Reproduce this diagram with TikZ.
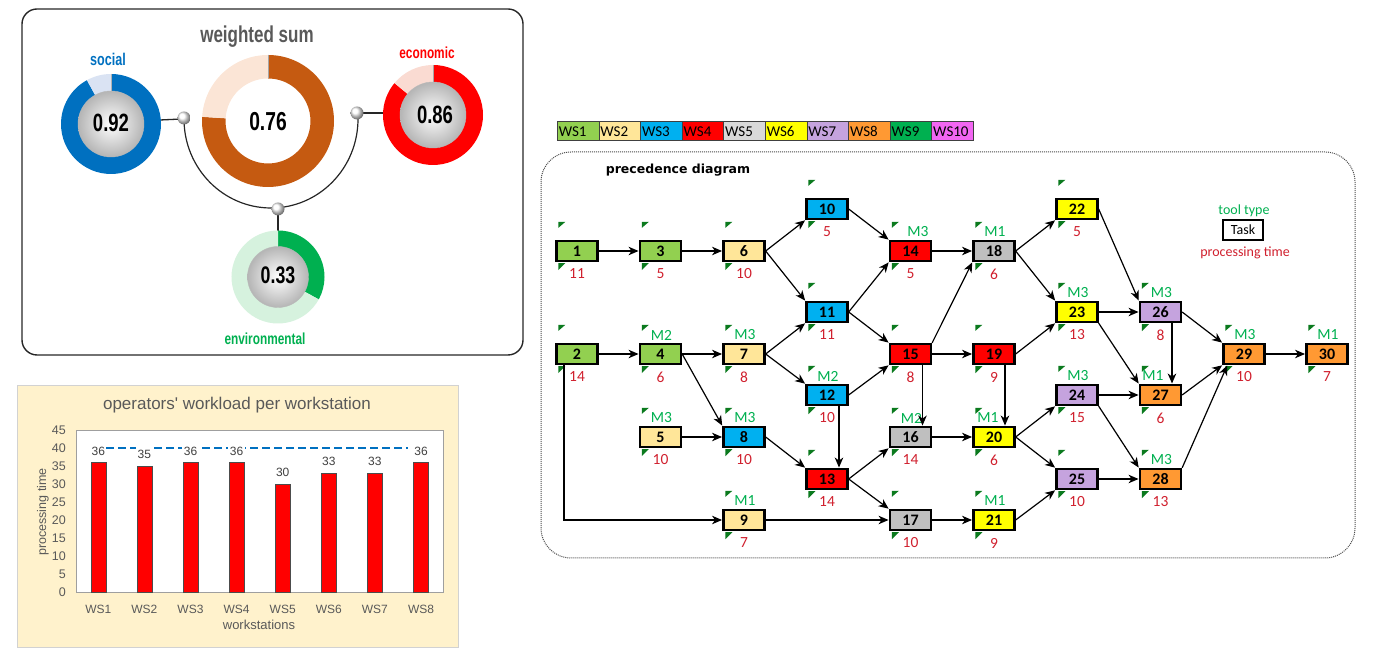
\documentclass[tikz,border=0pt]{standalone}
\usepackage{fontspec}
\usepackage{graphicx}
\setmainfont{Carlito}
\newfontfamily\arialf{Liberation Sans}
\newfontfamily\verdf{DejaVu Sans}
\usetikzlibrary{arrows.meta,calc}
\definecolor{ws1}{HTML}{92D050}
\definecolor{ws2}{HTML}{FFE699}
\definecolor{ws3}{HTML}{00B0F0}
\definecolor{ws4}{HTML}{FF0000}
\definecolor{ws5}{HTML}{D9D9D9}
\definecolor{ws5n}{HTML}{BFBFBF}
\definecolor{ws6}{HTML}{FFFF00}
\definecolor{ws7}{HTML}{C5A3DE}
\definecolor{ws8}{HTML}{FF9933}
\definecolor{ws9}{HTML}{00B050}
\definecolor{ws10}{HTML}{F266F2}
\definecolor{tgreen}{HTML}{00B050}
\definecolor{tred}{HTML}{D0202E}
\definecolor{flaggreen}{HTML}{0B7A1E}
\definecolor{chartgray}{HTML}{595959}
\definecolor{labgray}{HTML}{404040}
\definecolor{panelbg}{HTML}{FFF2CC}
\definecolor{dashblue}{HTML}{0070C0}
\definecolor{socblue}{HTML}{0070C0}
\definecolor{socpale}{HTML}{DAE3F3}
\definecolor{wsbrown}{HTML}{C55A11}
\definecolor{wspale}{HTML}{FBE5D6}
\definecolor{ecored}{HTML}{FF0000}
\definecolor{ecopale}{HTML}{FADBD2}
\definecolor{envgreen}{HTML}{00B050}
\definecolor{envpale}{HTML}{D6F2DE}
\definecolor{titlegray}{HTML}{595959}
% annulus segment: cx cy R r a1 a2 colour
\newcommand\gseg[7]{\fill[#7] ({#1+#3*cos(#5)},{#2+#3*sin(#5)}) arc[start angle=#5,end angle=#6,radius=#3] -- ({#1+#4*cos(#6)},{#2+#4*sin(#6)}) arc[start angle=#6,end angle=#5,radius=#4] -- cycle;}
\newcommand\cond[2]{\scalebox{0.74}[1]{\fontsize{#1}{#1}\selectfont\arialf\bfseries #2}}
% task: id x y colour number ptime tool dx
\newcommand\tsk[8]{%
  \node[task, fill=#4] (t#1) at (#2,#3) {#5};
  \fill[flaggreen] ([shift={(3,18)}]t#1.north west) -- ++(7,0) -- ++(-7,-6) -- cycle;
  \fill[flaggreen] ([shift={(3,-1)}]t#1.south west) -- ++(7,0) -- ++(-7,-7) -- cycle;
  \node[ptime] (p#1) at (#2,{#3-23}) {#6};
  \if\relax\detokenize{#7}\relax\else\node[tool] (m#1) at ({#2+1+#8},{#3+19}) {#7};\fi
}
\begin{document}
\begin{tikzpicture}[x=1pt,y=1pt,
  task/.style={draw=black, line width=2.3pt, minimum width=41pt, minimum height=20pt, inner sep=0pt, font=\fontsize{16}{16}\selectfont\bfseries},
  ptime/.style={text=tred, inner sep=0pt, font=\fontsize{15.5}{15.5}\selectfont},
  tool/.style={text=tgreen, inner sep=0pt, font=\fontsize{15.5}{15.5}\selectfont},
  arr/.style={-{Stealth[length=10pt,width=8.5pt,inset=3pt]}, line width=1.2pt, shorten >=0.3pt},
  legcell/.style={draw=black!75, line width=0.6pt, minimum height=19pt, text width=38.6pt, inner xsep=1.5pt, inner ysep=0pt, align=left, anchor=south west, font=\fontsize{15}{15}\selectfont},
  knob/.style={inner color=white, outer color=gray!58, draw=gray!55, line width=0.4pt},
  ballst/.style={ball color=white},
  chartlbl/.style={text=chartgray, font=\arialf\fontsize{12.5}{12.5}\selectfont, inner sep=1pt},
  vallbl/.style={text=labgray, fill=white, font=\arialf\fontsize{12}{12}\selectfont, inner sep=1.5pt, minimum height=14pt}
]
\useasboundingbox (0,0) rectangle (1379,668);

% ================= top-left panel =================
\draw[black!85, line width=1.4pt, rounded corners=15] (22,313) rectangle (523,659);

% connectors
\draw[black!85, line width=1.3pt] (160,548) -- (182,549);
\draw[black!85, line width=1.3pt] (359,555) -- (384,555);
\draw[black!85, line width=1.3pt] (278,455) -- (278,437);
\draw[black!85, line width=1.2pt] (184,549) arc[start angle=180, end angle=360, x radius=87, y radius=89];

% social
\gseg{111}{544}{50}{32}{90}{-241.2}{socblue}
\gseg{111}{544}{50}{32}{-241.2}{-270}{socpale}
\draw[gray!60, line width=0.8pt] (111,576) -- (111,594);
\shade[knob] (111,544) circle[radius=33];
\node (vsoc) at (111,545) {\cond{25}{0.92}};
\node[text=socblue] (lsoc) at (108,609) {\cond{17}{social}};

% weighted sum
\gseg{268}{547}{66}{42.5}{90}{-183.6}{wsbrown}
\gseg{268}{547}{66}{42.5}{-183.6}{-270}{wspale}
\draw[gray!70, line width=0.9pt] (268,589.5) -- (268,613);
\node (vws) at (268,546) {\cond{26}{0.76}};
\node[text=titlegray] (lws) at (257,631) {\cond{23}{weighted sum}};

% economic
\gseg{433}{553}{50}{32}{90}{-219.6}{ecored}
\gseg{433}{553}{50}{32}{-219.6}{-270}{ecopale}
\draw[gray!70, line width=0.9pt] (433,585) -- (433,603);
\shade[knob] (433,553) circle[radius=33];
\node (veco) at (435,553) {\cond{25}{0.86}};
\node[text=ecored] (leco) at (427,615.5) {\cond{16}{economic}};

% environmental
\gseg{278}{391}{46.5}{29}{90}{-28.8}{envgreen}
\gseg{278}{391}{46.5}{29}{-28.8}{-270}{envpale}
\shade[knob] (278,391) circle[radius=30.5];
\node (venv) at (278,393) {\cond{24}{0.33}};
\node[text=envgreen] (lenv) at (265,329) {\cond{16}{environmental}};

% balls
\shade[ballst] (184,550) circle[radius=6.5];
\shade[ballst] (357,555) circle[radius=6.5];
\shade[ballst] (278,459) circle[radius=6.5];

% ================= bar chart =================
\fill[panelbg, draw=gray!35, line width=0.6pt] (17,21) rectangle (458,283);
\fill[white] (76,76) rectangle (443,238);
\draw[gray!75, line width=0.7pt] (76,76) rectangle (443,238);
\node[text=chartgray, font=\arialf\fontsize{17}{17}\selectfont] (ctitle) at (237,262.5) {operators' workload per workstation};
\foreach \v in {0,5,...,45}{
  \node[chartlbl, anchor=east] (yt\v) at (67,{76+3.6*\v}) {\v};
}
\node[chartlbl, rotate=90, font=\arialf\fontsize{12.5}{12.5}\selectfont] (ylab) at (43,156) {processing time};
\node[chartlbl, font=\arialf\fontsize{13}{13}\selectfont] (xlab) at (259,43) {workstations};
\draw[dashblue, line width=2.8pt, dash pattern=on 8pt off 4pt] (106,220) -- (408,220);
\foreach \i/\v in {1/36,2/35,3/36,4/36,5/30,6/33,7/33,8/36}{
  \fill[red, draw=black!70, line width=0.6pt] ({98.3+46.1*(\i-1)-7.5},76) rectangle ++(15,{3.6*\v});
  \node[vallbl] (bv\i) at ({98.3+46.1*(\i-1)},{76+3.6*\v+11.5}) {\v};
  \node[chartlbl, font=\arialf\fontsize{12}{12}\selectfont] (xt\i) at ({98.3+46.1*(\i-1)},59) {WS\i};
}

% ================= legend bar =================
\foreach \i in {1,...,10}{
  \node[legcell, fill=ws\i] (lg\i) at ({557+41.6*(\i-1)},527) {WS\i};
}

% ================= precedence diagram =================
\draw[black!70, densely dotted, line width=1pt, rounded corners=30] (541,110) rectangle (1355,516);
\node[font=\verdf\bfseries\fontsize{12.5}{12.5}\selectfont, anchor=base] (ptitle) at (678,494) {precedence diagram};

% legend for tasks
\node[text=tgreen, font=\fontsize{14}{14}\selectfont, anchor=base] (ltool) at (1244,453) {tool type};
\node[draw=black, line width=2.3pt, fill=white, minimum width=40pt, minimum height=20pt, inner sep=0pt, font=\fontsize{14}{14}\selectfont] (ltask) at (1243,438) {Task};
\node[text=tred, font=\fontsize{14}{14}\selectfont, anchor=base] (lpt) at (1245,411.5) {processing time};

% tasks
\tsk{1}{577}{417}{ws1}{1}{11}{}{0}
\tsk{2}{577}{314}{ws1}{2}{14}{}{0}
\tsk{3}{660.5}{417}{ws1}{3}{5}{}{0}
\tsk{4}{660.5}{314}{ws1}{4}{6}{M2}{0}
\tsk{5}{660.5}{231}{ws2}{5}{10}{M3}{0}
\tsk{6}{744}{417}{ws2}{6}{10}{}{0}
\tsk{7}{744}{314}{ws2}{7}{8}{M3}{0}
\tsk{8}{744}{231}{ws3}{8}{10}{M3}{0}
\tsk{9}{744}{148}{ws2}{9}{7}{M1}{0}
\tsk{10}{827}{459}{ws3}{10}{5}{}{0}
\tsk{11}{827}{356}{ws3}{11}{11}{}{0}
\tsk{12}{827}{273}{ws3}{12}{10}{M2}{0}
\tsk{13}{827}{189}{ws4}{13}{14}{}{0}
\tsk{14}{910.5}{417}{ws4}{14}{5}{M3}{6.5}
\tsk{15}{910.5}{314}{ws4}{15}{8}{}{0}
\tsk{16}{910.5}{231}{ws5n}{16}{14}{M2}{0}
\tsk{17}{910.5}{148}{ws5n}{17}{10}{}{0}
\tsk{18}{994}{417}{ws5n}{18}{6}{M1}{0}
\tsk{19}{994}{314}{ws4}{19}{9}{}{0}
\tsk{20}{994}{231}{ws6}{20}{6}{M1}{-7}
\tsk{21}{994}{148}{ws6}{21}{9}{M1}{0}
\tsk{22}{1077}{459}{ws6}{22}{5}{}{0}
\tsk{23}{1077}{356}{ws6}{23}{13}{M3}{0}
\tsk{24}{1077}{273}{ws7}{24}{15}{M3}{0}
\tsk{25}{1077}{189}{ws7}{25}{10}{}{0}
\tsk{26}{1160.5}{356}{ws7}{26}{8}{M3}{0}
\tsk{27}{1160.5}{273}{ws8}{27}{6}{M1}{-8.5}
\tsk{28}{1160.5}{189}{ws8}{28}{13}{M3}{0}
\tsk{29}{1244}{314}{ws8}{29}{10}{M3}{0}
\tsk{30}{1327}{314}{ws8}{30}{7}{M1}{0}

% arrows
\draw[arr] (t1.east) -- (t3.west);
\draw[arr] (t3.east) -- (t6.west);
\draw[arr] (t6.east) -- (t10.south west);
\draw[arr] (t6.east) -- (t11.north west);
\draw[arr] (t2.east) -- (t4.west);
\draw[arr] ([xshift=-13pt]t2.south) |- (t9.west);
\draw[arr] (t4.east) -- (t7.west);
\draw[arr] (t4.east) -- (t8.north west);
\draw[arr] (t5.east) -- (t8.west);
\draw[arr] (t7.east) -- (t11.south west);
\draw[arr] (t7.east) -- (t12.north west);
\draw[arr] (t8.east) -- (t13.north west);
\draw[arr] (t10.east) -- (t14.north west);
\draw[arr] (t11.east) -- (t14.south west);
\draw[arr] (t11.east) -- (t15.north west);
\draw[arr] (t12.east) -- (t15.south west);
\draw[arr] ([xshift=12pt]t12.south) -- ([xshift=12pt]t13.north);
\draw[arr] (t13.east) -- (t16.south west);
\draw[arr] (t13.east) -- (t17.north west);
\draw[arr] (t9.east) -- (t17.west);
\draw[arr] (t14.east) -- (t18.west);
\draw[arr] (t15.north east) -- (t18.south west);
\draw[arr] (t15.east) -- (t19.west);
\draw[arr] ([xshift=12pt]t15.south) -- ([xshift=12pt]t16.north);
\draw[arr] (t16.east) -- (t20.west);
\draw[arr] (t17.east) -- (t21.west);
\draw[arr] (t18.east) -- (t22.south west);
\draw[arr] (t18.east) -- (t23.north west);
\draw[arr] (t19.east) -- (t23.south west);
\draw[arr] ([xshift=11pt]t19.south) -- ([xshift=11pt]t20.north);
\draw[arr] (t20.east) -- (t24.south west);
\draw[arr] (t20.east) -- (t25.north west);
\draw[arr] (t21.east) -- (t25.south west);
\draw[arr] (t22.east) -- (t26.north west);
\draw[arr] (t23.east) -- (t26.west);
\draw[arr] (t23.south east) -- (t27.north west);
\draw[arr] (t24.east) -- (t27.west);
\draw[arr] (t24.south east) -- (t28.north west);
\draw[arr] (t25.east) -- (t28.west);
\draw[arr] (t26.east) -- (t29.north west);
\draw[arr] ([xshift=11.5pt]t26.south) -- ([xshift=11.5pt]t27.north);
\draw[arr] (t27.east) -- (t29.south west);
\draw[arr] (t28.north east) -- ([xshift=5pt]t29.south west);
\draw[arr] (t29.east) -- (t30.west);
\end{tikzpicture}
\end{document}
